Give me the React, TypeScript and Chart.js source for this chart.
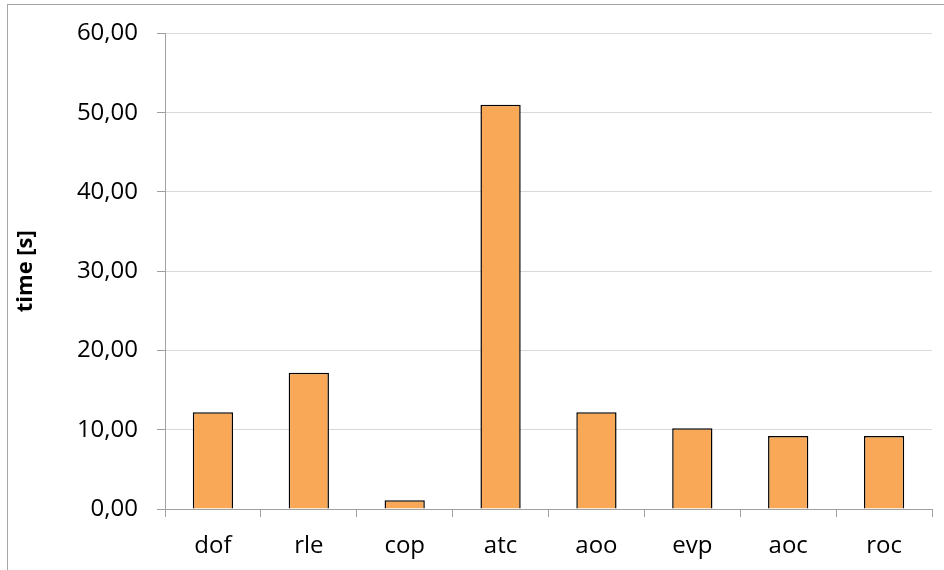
import React, { useEffect, useRef } from "react";
import { Chart, registerables } from "chart.js";

Chart.register(...registerables);

const categories = ["dof", "rle", "cop", "atc", "aoo", "evp", "aoc", "roc"];
const timeValues = [12.2, 17.2, 1.1, 51.0, 12.2, 10.2, 9.2, 9.2];
const yTicks = [0, 10, 20, 30, 40, 50, 60];
const yTitle = "time [s]";

const FONT = "'Open Sans', 'DejaVu Sans', sans-serif";

export default function App() {
  const ref = useRef<HTMLCanvasElement | null>(null);

  useEffect(() => {
    if (!ref.current) return;
    const chart = new Chart(ref.current, {
      type: "bar",
      data: {
        labels: categories,
        datasets: [
          {
            data: timeValues,
            backgroundColor: "#F9A857",
            borderColor: "#000000",
            borderWidth: 1.5,
            barPercentage: 0.42,
            categoryPercentage: 1,
          },
        ],
      },
      options: {
        responsive: false,
        animation: false,
        layout: { padding: { left: 0, top: 31, right: 12, bottom: 0 } },
        plugins: {
          legend: { display: false },
          tooltip: { enabled: false },
        },
        scales: {
          x: {
            afterFit: (s: any) => {
              s.height = 61;
            },
            grid: {
              offset: true,
              drawOnChartArea: false,
              drawTicks: true,
              tickLength: 8,
              tickColor: "#A0A0A0",
              tickWidth: 1,
            },
            border: { color: "#A0A0A0", width: 1 },
            ticks: {
              color: "#000000",
              font: { family: FONT, size: 24 },
              padding: 15,
              maxRotation: 0,
            },
          },
          y: {
            min: 0,
            max: 60,
            afterFit: (s: any) => {
              s.width = 165;
            },
            afterBuildTicks: (s: any) => {
              s.ticks = yTicks.map((v) => ({ value: v }));
            },
            grid: {
              color: "#D9D9D9",
              lineWidth: 1,
              drawTicks: true,
              tickLength: 8,
              tickColor: "#A0A0A0",
            },
            border: { color: "#A0A0A0", width: 1 },
            ticks: {
              color: "#000000",
              font: { family: FONT, size: 24 },
              padding: 19,
              callback: (v: any) => Number(v).toFixed(2).replace(".", ","),
            },
            title: {
              display: true,
              text: yTitle,
              color: "#000000",
              font: { family: FONT, size: 22, weight: "bold" },
              padding: { top: 13, bottom: 0 },
            },
          },
        },
      },
    });
    return () => chart.destroy();
  }, []);

  return (
    <div style={{ position: "fixed", left: 0, top: 0, width: 944, height: 570, background: "#fff", overflow: "hidden" }}>
      <div
        style={{
          position: "absolute",
          left: 7,
          top: 4,
          width: 1000,
          height: 1000,
          borderTop: "1px solid #A6A6A6",
          borderLeft: "1px solid #A6A6A6",
        }}
      />
      <canvas ref={ref} width={944} height={570} style={{ position: "absolute", left: 0, top: 0 }} />
    </div>
  );
}
